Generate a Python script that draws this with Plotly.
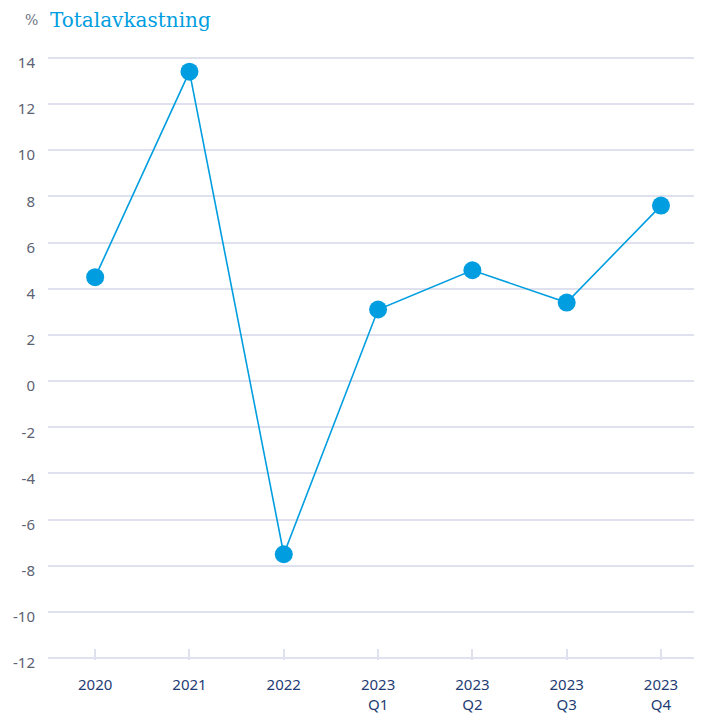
import plotly.graph_objects as go

# Totalavkastning per period (%)
categories = ["2020", "2021", "2022", "2023<br>Q1", "2023<br>Q2", "2023<br>Q3", "2023<br>Q4"]
returns = [4.5, 13.4, -7.5, 3.1, 4.8, 3.4, 7.6]
y_ticks = list(range(-12, 15, 2))
y_labels = [str(v) for v in y_ticks]  # plain hyphen, as in the original

BLUE = "#009ee0"
GRID = "#dfe2ee"

fig = go.Figure()
fig.add_trace(go.Scatter(
    x=list(range(len(categories))), y=returns,
    mode="lines+markers",
    line=dict(color=BLUE, width=1.6),
    marker=dict(color=BLUE, size=18),
    showlegend=False,
))

# page body has an 8px margin, so the margins are shifted to compensate
fig.update_layout(
    width=702, height=714,
    margin=dict(l=40, r=16, t=48, b=62, autoexpand=False),
    paper_bgcolor="white", plot_bgcolor="white",
    font=dict(family="Noto Sans", size=15),
)
fig.add_annotation(text="%", xref="paper", yref="paper", x=0.0, xshift=-25, y=1.0, yshift=36,
                   xanchor="left", yanchor="middle", showarrow=False,
                   font=dict(family="DejaVu Serif", size=14, color="#6b7080"))
fig.add_annotation(text="Totalavkastning", xref="paper", yref="paper", x=0.0, y=1.0, yshift=36,
                   xanchor="left", yanchor="middle", showarrow=False,
                   font=dict(family="DejaVu Serif", size=20, color=BLUE))

fig.update_xaxes(
    tickmode="array", tickvals=list(range(len(categories))), ticktext=categories,
    range=[-0.5, 6.35], showgrid=False, zeroline=False, showline=False,
    ticks="inside", ticklen=11, tickcolor=GRID, tickwidth=2, ticklabelstandoff=14,
    automargin=False, tickfont=dict(color="#1f3d73", size=15),
)
fig.update_yaxes(
    range=[-12.08, 14.08], tickmode="array", tickvals=y_ticks, ticktext=y_labels,
    showgrid=True, gridcolor=GRID, gridwidth=2,
    zeroline=False, showline=False, ticks="", ticklabelshift=5, ticklabelstandoff=12,
    automargin=False, tickfont=dict(color="#5c6272", size=15),
)

fig.write_html("out.html")
